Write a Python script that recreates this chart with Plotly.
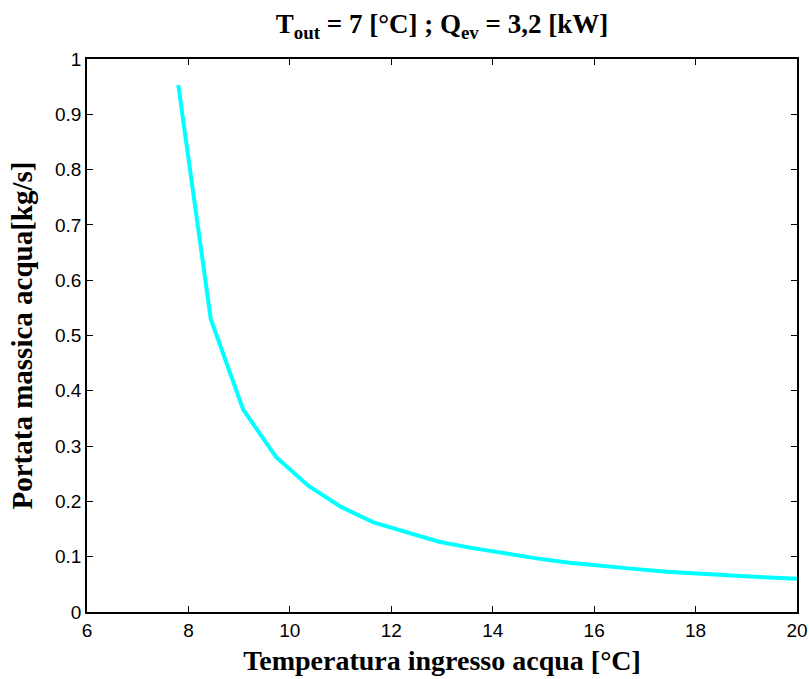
import plotly.graph_objects as go

t_in = [7.8, 8.44, 9.08, 9.73, 10.37, 11.01, 11.65, 12.29, 12.94, 13.58,
        14.22, 14.86, 15.51, 16.15, 16.79, 17.43, 18.07, 18.72, 19.36, 20.0]
portata = [0.953, 0.530, 0.366, 0.280, 0.228, 0.190, 0.162, 0.144, 0.127, 0.116,
           0.106, 0.097, 0.089, 0.083, 0.078, 0.073, 0.069, 0.066, 0.063, 0.060]

x_ticks = [6, 8, 10, 12, 14, 16, 18, 20]
y_ticks = [0, 0.1, 0.2, 0.3, 0.4, 0.5, 0.6, 0.7, 0.8, 0.9, 1]
y_ticklabels = ["0", "0.1", "0.2", "0.3", "0.4", "0.5", "0.6", "0.7", "0.8", "0.9", "1"]

serif = "Liberation Serif, Times New Roman, serif"
sans = "Liberation Sans, Arial, sans-serif"

fig = go.Figure()
fig.add_trace(go.Scatter(x=t_in, y=portata, mode="lines",
                         line=dict(color="#00FFFF", width=4), showlegend=False))

axis_common = dict(showline=True, linecolor="black", linewidth=1.5, mirror="allticks",
                   ticks="inside", ticklen=6, tickcolor="black", showgrid=False,
                   zeroline=False, automargin=False,
                   tickfont=dict(family=sans, size=19, color="black"))

fig.update_layout(
    width=809, height=679,
    paper_bgcolor="white", plot_bgcolor="white",
    margin=dict(l=87, r=12, t=59, b=67),
    title=dict(text="<b>T<sub>out</sub> = 7 [°C] ; Q<sub>ev</sub> = 3,2 [kW]</b>",
               xref="paper", x=0.5, xanchor="center", y=1 - 24 / 679, yanchor="middle",
               font=dict(family=serif, size=27, color="black")),
    xaxis=dict(range=[6, 20], tickvals=x_ticks, ticktext=[str(v) for v in x_ticks],
               title=dict(text="<b>Temperatura ingresso acqua [°C]</b>", standoff=11,
                          font=dict(family=serif, size=28, color="black")),
               **axis_common),
    yaxis=dict(range=[0, 1], tickvals=y_ticks, ticktext=y_ticklabels,
               title=dict(text="<b>Portata massica acqua[kg/s]</b>", standoff=14,
                          font=dict(family=serif, size=29, color="black")),
               **axis_common),
)

fig.write_html("out.html", config={"displayModeBar": False},
               post_script="document.body.style.margin='0';document.body.style.padding='0';")
